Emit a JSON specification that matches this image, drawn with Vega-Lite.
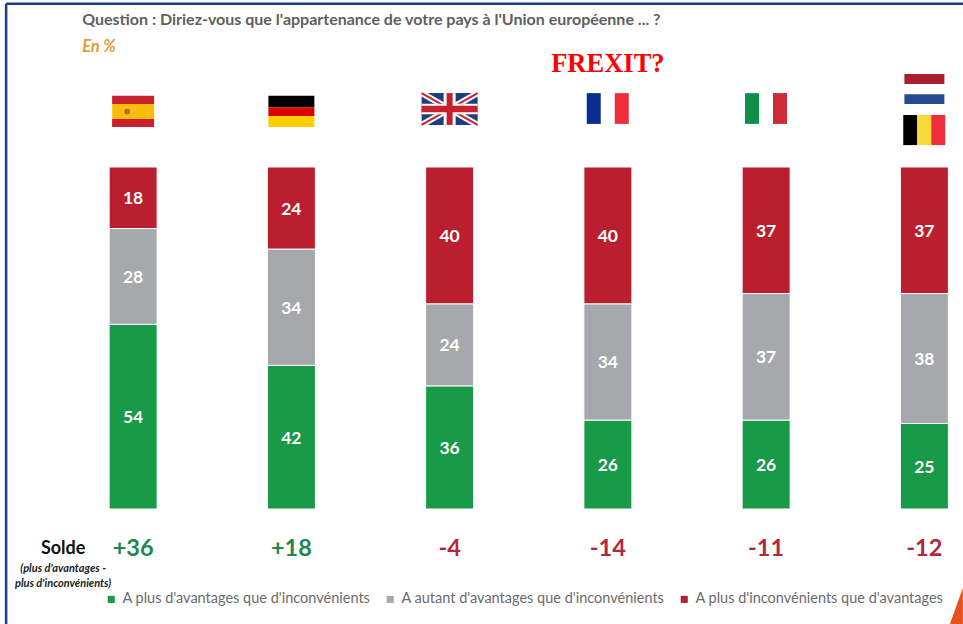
{
"$schema":"https://vega.github.io/schema/vega-lite/v6.json",
"width":963,"height":624,"padding":0,"autosize":"none",
"background":"white",
"config":{"view":{"stroke":null},"font":"Lato"},
"data":{"values":[{}]},
"datasets":{
"parts":[
{"pays":"Espagne","cat":"A plus d'avantages que d'inconvénients","k":1,"v":54},
{"pays":"Espagne","cat":"A autant d'avantages que d'inconvénients","k":2,"v":28},
{"pays":"Espagne","cat":"A plus d'inconvénients que d'avantages","k":3,"v":18},
{"pays":"Allemagne","cat":"A plus d'avantages que d'inconvénients","k":1,"v":42},
{"pays":"Allemagne","cat":"A autant d'avantages que d'inconvénients","k":2,"v":34},
{"pays":"Allemagne","cat":"A plus d'inconvénients que d'avantages","k":3,"v":24},
{"pays":"Royaume-Uni","cat":"A plus d'avantages que d'inconvénients","k":1,"v":36},
{"pays":"Royaume-Uni","cat":"A autant d'avantages que d'inconvénients","k":2,"v":24},
{"pays":"Royaume-Uni","cat":"A plus d'inconvénients que d'avantages","k":3,"v":40},
{"pays":"France","cat":"A plus d'avantages que d'inconvénients","k":1,"v":26},
{"pays":"France","cat":"A autant d'avantages que d'inconvénients","k":2,"v":34},
{"pays":"France","cat":"A plus d'inconvénients que d'avantages","k":3,"v":40},
{"pays":"Italie","cat":"A plus d'avantages que d'inconvénients","k":1,"v":26},
{"pays":"Italie","cat":"A autant d'avantages que d'inconvénients","k":2,"v":37},
{"pays":"Italie","cat":"A plus d'inconvénients que d'avantages","k":3,"v":37},
{"pays":"Benelux","cat":"A plus d'avantages que d'inconvénients","k":1,"v":25},
{"pays":"Benelux","cat":"A autant d'avantages que d'inconvénients","k":2,"v":38},
{"pays":"Benelux","cat":"A plus d'inconvénients que d'avantages","k":3,"v":37}
],
"soldes":[
{"pays":"Espagne","solde":36,"t":"+36"},
{"pays":"Allemagne","solde":18,"t":"+18"},
{"pays":"Royaume-Uni","solde":-4,"t":"-4"},
{"pays":"France","solde":-14,"t":"-14"},
{"pays":"Italie","solde":-11,"t":"-11"},
{"pays":"Benelux","solde":-12,"t":"-12"}
],
"h":[
{"pays":"Espagne","b":"es rouge","a":120.8,"c":118.4},
{"pays":"Espagne","b":"es jaune","a":118.4,"c":114.0},
{"pays":"Espagne","b":"es rouge","a":114.0,"c":111.7},
{"pays":"Allemagne","b":"noir","a":120.8,"c":117.5},
{"pays":"Allemagne","b":"de rouge","a":117.5,"c":114.9},
{"pays":"Allemagne","b":"de jaune","a":114.9,"c":111.7},
{"pays":"Benelux","b":"nl rouge","a":127.2,"c":124.3},
{"pays":"Benelux","b":"nl bleu","a":121.3,"c":118.4}
],
"v":[
{"pays":"France","n":1,"b":"fr bleu","a":121.6,"c":112.6},
{"pays":"France","n":3,"b":"fr rouge","a":121.6,"c":112.6},
{"pays":"Italie","n":1,"b":"it vert","a":121.6,"c":112.6},
{"pays":"Italie","n":3,"b":"it rouge","a":121.6,"c":112.6},
{"pays":"Benelux","n":1,"b":"noir","a":115.2,"c":106.4},
{"pays":"Benelux","n":2,"b":"be jaune","a":115.2,"c":106.4},
{"pays":"Benelux","n":3,"b":"be rouge","a":115.2,"c":106.4}
]
},
"layer":[
{"data":{"name":"parts"},"mark":{"type":"bar","width":48,"stroke":"white","strokeWidth":1},
 "encoding":{
  "x":{"field":"pays","type":"nominal","axis":null,"scale":{"domain":["Espagne","Allemagne","Royaume-Uni","France","Italie","Benelux"],"range":[54,1003.5],"paddingInner":0,"paddingOuter":0}},
  "y":{"field":"v","type":"quantitative","stack":"zero","axis":null,"scale":{"domain":[-33.63,148.83],"nice":false,"zero":false}},
  "order":{"field":"k","type":"ordinal"},
  "color":{"field":"cat","type":"nominal","title":null,
   "scale":{"domain":["A plus d'avantages que d'inconvénients","A autant d'avantages que d'inconvénients","A plus d'inconvénients que d'avantages","es rouge","es jaune","noir","de rouge","de jaune","nl rouge","nl bleu","fr bleu","fr rouge","it vert","it rouge","be jaune","be rouge"],
    "range":["#189a49","#a6a8ab","#bb1e2e","#c8202c","#fbbd0d","#000000","#dd0000","#ffce00","#a81f30","#234a92","#0a2d91","#ee2e3c","#0f9048","#cf2a37","#f9d83b","#ed2e3c"]},
   "legend":{"values":["A plus d'avantages que d'inconvénients","A autant d'avantages que d'inconvénients","A plus d'inconvénients que d'avantages"],
    "orient":"none","legendX":104,"legendY":592,"direction":"horizontal","columns":3,"symbolType":"square","symbolSize":50,"symbolStrokeWidth":0,"labelFont":"Lato","labelFontSize":14.5,"labelColor":"#6b6b6b","labelLimit":400,"columnPadding":12,"padding":0,"offset":0}}
 }},
{"data":{"name":"parts"},"mark":{"type":"text","color":"white","fontWeight":"bold","fontSize":17.5,"baseline":"middle","dy":1.5},
 "encoding":{
  "x":{"field":"pays","type":"nominal"},
  "y":{"field":"v","type":"quantitative","stack":"zero","bandPosition":0.5},
  "detail":{"field":"cat"},
  "order":{"field":"k","type":"ordinal"},
  "text":{"field":"v","type":"quantitative"}
 }},
{"data":{"name":"soldes"},"mark":{"type":"text","fontWeight":"bold","fontSize":23.5,"baseline":"middle"},
 "encoding":{
  "x":{"field":"pays","type":"nominal"},
  "y":{"datum":-11.7,"type":"quantitative"},
  "text":{"field":"t"},
  "color":{"condition":{"test":"datum.solde>0","value":"#22874f"},"value":"#b3273a"}
 }},
{"data":{"name":"h"},"transform":[{"filter":"datum.pays=='Espagne'"}],"mark":{"type":"bar","width":42},
 "encoding":{"x":{"field":"pays","type":"nominal"},"y":{"field":"a","type":"quantitative"},"y2":{"field":"c"},"color":{"field":"b","type":"nominal"}}},
{"data":{"name":"h"},"transform":[{"filter":"datum.pays=='Allemagne'"}],"mark":{"type":"bar","width":46},
 "encoding":{"x":{"field":"pays","type":"nominal"},"y":{"field":"a","type":"quantitative"},"y2":{"field":"c"},"color":{"field":"b","type":"nominal"}}},
{"data":{"name":"h"},"transform":[{"filter":"datum.pays=='Benelux'"}],"mark":{"type":"bar","width":40},
 "encoding":{"x":{"field":"pays","type":"nominal"},"y":{"field":"a","type":"quantitative"},"y2":{"field":"c"},"color":{"field":"b","type":"nominal"}}},
{"data":{"name":"v"},"mark":{"type":"bar"},
 "encoding":{"x":{"field":"pays","type":"nominal"},"xOffset":{"field":"n","type":"ordinal","scale":{"domain":[1,2,3],"range":[58,100]}},"y":{"field":"a","type":"quantitative"},"y2":{"field":"c"},"color":{"field":"b","type":"nominal"}}},
{"mark":{"type":"point","filled":true,"size":35,"xOffset":-6,"color":"#b0702a","opacity":1},"encoding":{"x":{"datum":"Espagne"},"y":{"datum":116.2,"type":"quantitative"}}},
{"mark":{"type":"bar","width":56,"color":"#1c3f7f"},"encoding":{"x":{"datum":"Royaume-Uni"},"y":{"datum":121.6,"type":"quantitative"},"y2":{"datum":112.3}}},
{"mark":{"type":"rule","xOffset":-28,"x2Offset":28,"strokeWidth":6,"color":"white"},"encoding":{"x":{"datum":"Royaume-Uni"},"x2":{"datum":"Royaume-Uni"},"y":{"datum":121.6,"type":"quantitative"},"y2":{"datum":112.3}}},
{"mark":{"type":"rule","xOffset":-28,"x2Offset":28,"strokeWidth":6,"color":"white"},"encoding":{"x":{"datum":"Royaume-Uni"},"x2":{"datum":"Royaume-Uni"},"y":{"datum":112.3,"type":"quantitative"},"y2":{"datum":121.6}}},
{"mark":{"type":"rule","xOffset":-28,"x2Offset":28,"strokeWidth":2,"color":"#c8202c"},"encoding":{"x":{"datum":"Royaume-Uni"},"x2":{"datum":"Royaume-Uni"},"y":{"datum":121.6,"type":"quantitative"},"y2":{"datum":112.3}}},
{"mark":{"type":"rule","xOffset":-28,"x2Offset":28,"strokeWidth":2,"color":"#c8202c"},"encoding":{"x":{"datum":"Royaume-Uni"},"x2":{"datum":"Royaume-Uni"},"y":{"datum":112.3,"type":"quantitative"},"y2":{"datum":121.6}}},
{"mark":{"type":"bar","width":56,"color":"white"},"encoding":{"x":{"datum":"Royaume-Uni"},"y":{"datum":118.5,"type":"quantitative"},"y2":{"datum":115.4}}},
{"mark":{"type":"bar","width":12,"color":"white"},"encoding":{"x":{"datum":"Royaume-Uni"},"y":{"datum":121.6,"type":"quantitative"},"y2":{"datum":112.3}}},
{"mark":{"type":"bar","width":56,"color":"#c8202c"},"encoding":{"x":{"datum":"Royaume-Uni"},"y":{"datum":117.9,"type":"quantitative"},"y2":{"datum":116.0}}},
{"mark":{"type":"bar","width":6,"color":"#c8202c"},"encoding":{"x":{"datum":"Royaume-Uni"},"y":{"datum":121.6,"type":"quantitative"},"y2":{"datum":112.3}}},
{"mark":{"type":"text","align":"left","baseline":"middle","dx":-51,"fontWeight":"bold","fontSize":16,"color":"#5f6062","text":"Question : Diriez-vous que l'appartenance de votre pays à l'Union européenne ... ?"},"encoding":{"x":{"datum":"Espagne"},"y":{"datum":142.9,"type":"quantitative"}}},
{"mark":{"type":"text","align":"left","baseline":"middle","dx":-51,"fontWeight":"bold","fontStyle":"italic","fontSize":16.5,"color":"#e59a3c","text":"En %"},"encoding":{"x":{"datum":"Espagne"},"y":{"datum":135.1,"type":"quantitative"}}},
{"mark":{"type":"text","baseline":"middle","font":"Liberation Serif","fontWeight":"bold","fontSize":26.5,"color":"#ff0000","text":"FREXIT?"},"encoding":{"x":{"datum":"France"},"y":{"datum":130.0,"type":"quantitative"}}},
{"mark":{"type":"text","baseline":"middle","dx":-70,"fontWeight":"bold","fontSize":18,"color":"#111111","text":"Solde"},"encoding":{"x":{"datum":"Espagne"},"y":{"datum":-11.7,"type":"quantitative"}}},
{"mark":{"type":"text","baseline":"middle","dx":-70,"fontWeight":"bold","fontStyle":"italic","fontSize":11,"color":"#222222","text":"(plus d'avantages -"},"encoding":{"x":{"datum":"Espagne"},"y":{"datum":-17.6,"type":"quantitative"}}},
{"mark":{"type":"text","baseline":"middle","dx":-70,"fontWeight":"bold","fontStyle":"italic","fontSize":11,"color":"#222222","text":"plus d'inconvénients)"},"encoding":{"x":{"datum":"Espagne"},"y":{"datum":-21.9,"type":"quantitative"}}},
{"mark":{"type":"rule","strokeWidth":2.5,"color":"#1b3f8b","xOffset":-127,"x2Offset":60},"encoding":{"x":{"datum":"Espagne"},"x2":{"datum":"Benelux"},"y":{"datum":147.7,"type":"quantitative"}}},
{"mark":{"type":"rule","strokeWidth":2.5,"color":"#1b3f8b","xOffset":-127},"encoding":{"x":{"datum":"Espagne"},"y":{"datum":147.7,"type":"quantitative"},"y2":{"datum":-33.63}}},
{"mark":{"type":"point","filled":true,"opacity":1,"color":"#e8501f","shape":"M-0.36,1L0.36,-1L0.36,1Z","size":1296,"xOffset":32},"encoding":{"x":{"datum":"Benelux"},"y":{"datum":-28.4,"type":"quantitative"}}}
]
}
